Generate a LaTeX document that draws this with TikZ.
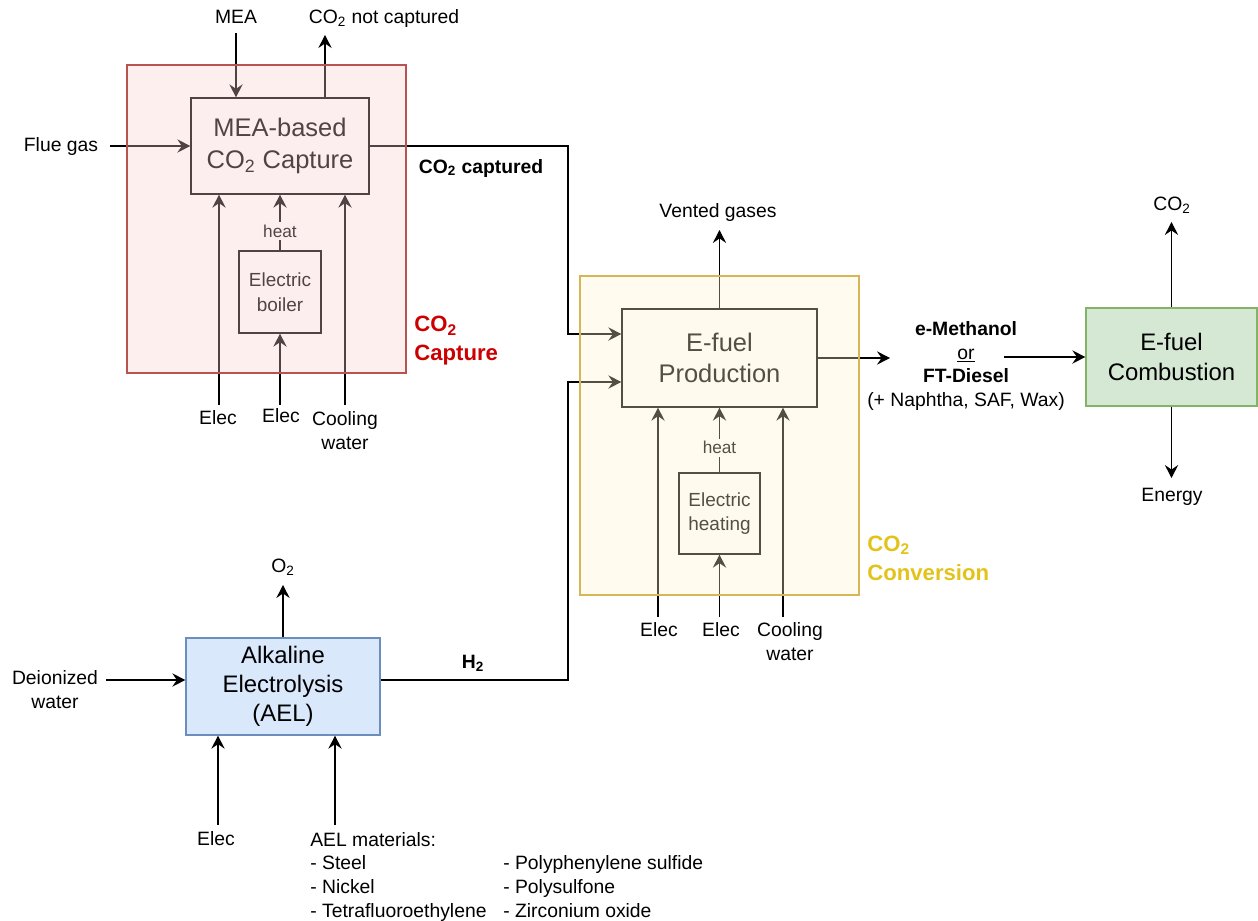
\documentclass[tikz,border=0pt]{standalone}
\usepackage{fontspec}
\setmainfont{Liberation Sans}
\usetikzlibrary{arrows.meta,calc}
\definecolor{capfill}{HTML}{F8CECC}
\definecolor{capline}{HTML}{B85450}
\definecolor{convfill}{HTML}{FFF2CC}
\definecolor{convline}{HTML}{D6B656}
\definecolor{aelfill}{HTML}{DAE8FC}
\definecolor{aelline}{HTML}{6C8EBF}
\definecolor{combfill}{HTML}{D5E8D4}
\definecolor{combline}{HTML}{82B366}
\definecolor{capred}{HTML}{CC0000}
\definecolor{convgold}{HTML}{E3C21A}
\newcommand{\fsn}{\fontsize{11}{13.6}\selectfont}
\newcommand{\fsbig}{\fontsize{14.5}{18}\selectfont}
\newcommand{\fsmid}{\fontsize{13.6}{16.6}\selectfont}
\newcommand{\fssmall}{\fontsize{10.8}{14}\selectfont}
\newcommand{\fsheat}{\fontsize{9.8}{12}\selectfont}
\newcommand{\fsreg}{\fontsize{12.6}{16.5}\selectfont}
\tikzset{
  arr/.style={-{Stealth[length=7.4pt,width=7.6pt,inset=2.6pt]}, line width=0.75pt},
  proc/.style={draw, line width=0.8pt, inner sep=0pt, align=center, fill=white},
  lbl/.style={inner sep=1pt, align=center, font=\fsn},
  heatlbl/.style={inner sep=1.5pt, fill=white, font=\fsheat},
  region/.style={draw, line width=0.9pt, fill opacity=0.33, inner sep=0pt},
}
\begin{document}
\begin{tikzpicture}[x=0.02cm,y=-0.02cm]
\useasboundingbox (0,0) rectangle (1258,920);

% ---------- CO2 capture ----------
\node[proc, font=\fsbig, minimum width=3.56cm, minimum height=1.92cm] (mea) at (280,146) {MEA-based\\CO\textsubscript{2} Capture};
\node[proc, font=\fssmall, minimum width=1.64cm, minimum height=1.64cm] (boiler) at (280,292) {Electric\\boiler};

\node[lbl] (lMEA) at (236,17) {MEA};
\node[lbl] (lNC) at (384,19) {CO\textsubscript{2} not captured};
\node[lbl] (lFlue) at (61,146) {Flue gas};
\node[lbl, font=\fsn\bfseries] (lCapt) at (481,168) {CO\textsubscript{2} captured};
\node[lbl] (lce1) at (218,418) {Elec};
\node[lbl] (lce2) at (281,416) {Elec};
\node[lbl] (lccw) at (345,430.5) {Cooling\\water};

\coordinate (meaT) at (236,33);
\coordinate (ncT) at (325,35);
\coordinate (flueS) at (110,146);
\coordinate (capB) at (568,146);
\coordinate (ce1) at (219,405);
\coordinate (ce2) at (280,405);
\coordinate (ccw) at (345,405);

\draw[arr] (meaT) -- (meaT |- mea.north);
\draw[arr] (ncT |- mea.north) -- (ncT);
\draw[arr] (flueS) -- (mea.west);
\draw[arr] (ce1) -- (ce1 |- mea.south);
\draw[arr] (ce2) -- (boiler.south);
\draw[arr] (ccw) -- (ccw |- mea.south);
\draw[arr] (boiler.north) -- node[heatlbl, pos=0.35] (lh1) {heat} (boiler.north |- mea.south);

% ---------- E-fuel production ----------
\node[proc, font=\fsbig, minimum width=3.9cm, minimum height=1.96cm] (ef) at (719.5,358) {E-fuel\\Production};
\node[proc, font=\fssmall, minimum width=1.62cm, minimum height=1.62cm] (heating) at (719.5,513.5) {Electric\\heating};

\node[lbl] (lVent) at (718,212) {Vented gases};
\node[lbl] (lfe1) at (659,630) {Elec};
\node[lbl] (lfe2) at (721,630) {Elec};
\node[lbl] (lfcw) at (790,641.5) {Cooling\\water};

\coordinate (ventT) at (719.5,230);
\coordinate (fe1) at (658,617);
\coordinate (fe2) at (719.5,617);
\coordinate (fcw) at (783,617);
\coordinate (outT) at (890,358);

\draw[arr] (mea.east) -- (capB) |- ([yshift=0.48cm]ef.west);
\draw[arr] (ef.north) -- (ventT);
\draw[arr] (fe1) -- (fe1 |- ef.south);
\draw[arr] (fe2) -- (heating.south);
\draw[arr] (fcw) -- (fcw |- ef.south);
\draw[arr] (heating.north) -- node[heatlbl, pos=0.38] (lh2) {heat} (heating.north |- ef.south);
\draw[arr] (ef.east) -- (outT);

% ---------- products / combustion ----------
\node[lbl, font=\fsn, align=center] (prod) at (966,366) {\textbf{e-Methanol}\\\underline{or}\\\textbf{FT-Diesel}\\(+ Naphtha, SAF, Wax)};
\node[proc, font=\fsmid, fill=combfill, draw=combline, minimum width=3.42cm, minimum height=1.96cm] (comb) at (1171.5,357) {E-fuel\\Combustion};
\node[lbl] (lCO2) at (1172,205) {CO\textsubscript{2}};
\node[lbl] (lEn) at (1172,497) {Energy};
\coordinate (prodS) at (1004,357);
\coordinate (cbT) at (1172,222);
\coordinate (cbB) at (1172,478);
\draw[arr] (prodS) -- (comb.west);
\draw[arr] (comb.north) -- (comb.north |- cbT);
\draw[arr] (comb.south) -- (comb.south |- cbB);

% ---------- AEL ----------
\node[proc, font=\fsmid, fill=aelfill, draw=aelline, minimum width=3.88cm, minimum height=1.94cm] (ael) at (283,686.5) {Alkaline\\Electrolysis\\(AEL)};
\node[lbl] (lO2) at (283,567) {O\textsubscript{2}};
\node[lbl] (lDI) at (55,690) {Deionized\\water};
\node[lbl, font=\fsn\bfseries] (lH2) at (473,663) {H\textsubscript{2}};
\node[lbl] (lae1) at (216,839) {Elec};
\node[anchor=north west, inner sep=0pt, font=\fsn] (lMat) at (310,829) {%
  \begin{tabular}{@{}p{3.86cm}@{}l@{}}
  AEL materials: & \\
  - Steel & - Polyphenylene sulfide\\
  - Nickel & - Polysulfone\\
  - Tetrafluoroethylene & - Zirconium oxide
  \end{tabular}};

\coordinate (o2T) at (283,585);
\coordinate (diS) at (106,680);
\coordinate (h2B) at (568,680);
\coordinate (ae1) at (218,825);
\coordinate (amat) at (335,825);
\draw[arr] (ael.north) -- (ael.north |- o2T);
\draw[arr] (diS) -- (diS -| ael.west);
\draw[arr] (diS -| ael.east) -- (h2B) |- ([yshift=-0.48cm]ef.west);
\draw[arr] (ae1) -- (ae1 |- ael.south);
\draw[arr] (amat) -- (amat |- ael.south);

% ---------- region overlays ----------
\node[region, fill=capfill, draw=capline, minimum width=5.58cm, minimum height=6.16cm] (capR) at (266.5,219) {};
\node[region, fill=convfill, draw=convline, minimum width=5.58cm, minimum height=6.38cm] (convR) at (719.5,435.5) {};
\node[anchor=west, align=left, inner sep=0pt, font=\fsreg\bfseries, text=capred] (lCapR) at (414,341) {CO\textsubscript{2}\\Capture};
\node[anchor=west, align=left, inner sep=0pt, font=\fsreg\bfseries, text=convgold] (lConvR) at (867,558) {CO\textsubscript{2}\\Conversion};
\end{tikzpicture}
\end{document}
